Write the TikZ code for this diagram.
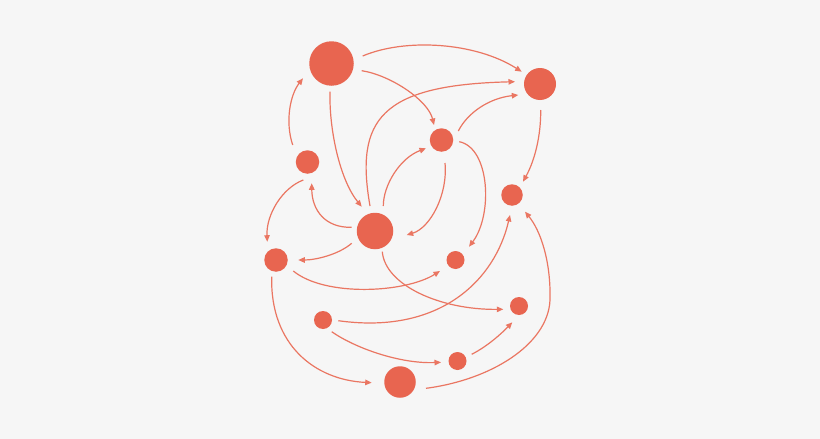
\documentclass[tikz,border=0pt]{standalone}
\usetikzlibrary{arrows.meta,calc}
\definecolor{bg}{RGB}{246,246,246}
\definecolor{dotc}{RGB}{232,101,80}
\definecolor{linec}{RGB}{234,118,98}
\tikzset{
  dot/.style={circle,fill=dotc,draw=none,inner sep=0pt},
  edge/.style={draw=linec,line width=1.2pt,-{Triangle[length=6.5pt,width=5.5pt]}}
}
\begin{document}
\begin{tikzpicture}[x=1pt,y=-1pt]
\fill[bg] (0,0) rectangle (820,439);
\useasboundingbox (0,0) rectangle (820,439);
\node[dot,minimum size=44.5pt] (A) at (331.5,63.5) {};
\node[dot,minimum size=32pt] (B) at (540,84) {};
\node[dot,minimum size=23.5pt] (C) at (441.5,140) {};
\node[dot,minimum size=23.5pt] (D) at (307.5,162) {};
\node[dot,minimum size=21.5pt] (E) at (512,195) {};
\node[dot,minimum size=36.5pt] (F) at (375,231) {};
\node[dot,minimum size=23.5pt] (G) at (276,260) {};
\node[dot,minimum size=18pt] (H) at (455.5,260) {};
\node[dot,minimum size=18pt] (I) at (519,306) {};
\node[dot,minimum size=18pt] (J) at (323,320) {};
\node[dot,minimum size=18pt] (K) at (457.5,361) {};
\node[dot,minimum size=31.5pt] (L) at (400,382) {};
% edges
\draw[edge] ($(A)+(31.2,-7.5)$) .. controls +(42.3,-18) and +(-46.7,-29.7) .. ($(B)+(-18.3,-12.3)$);
\draw[edge] ($(A)+(30.2,7.2)$) .. controls +(28.3,4.3) and +(-6,-25) .. ($(C)+(-7.5,-15)$);
\draw[edge] ($(A)+(-1.5,28.2)$) .. controls +(-1,38.3) and +(-21.7,-26.7) .. ($(F)+(-13.3,-24.3)$);
\draw[edge] ($(D)+(-14.8,-17)$) .. controls +(-7.7,-23) and +(-13,16.7) .. ($(A)+(-28.5,14.8)$);
\draw[edge] ($(F)+(-5,-25)$) .. controls +(-15,-86) and +(-135,3.3) .. ($(B)+(-25,-2.3)$);
\draw[edge] ($(C)+(16.8,-9)$) .. controls +(9.7,-19) and +(-28.3,3) .. ($(B)+(-21.7,11)$);
\draw[edge] ($(B)+(0.7,26)$) .. controls +(0.3,25) and +(12,-21.7) .. ($(E)+(11,-13.3)$);
\draw[edge] ($(F)+(8.3,-25)$) .. controls +(0,-21) and +(-26,9.7) .. ($(C)+(-15.5,8.3)$);
\draw[edge] ($(C)+(3.5,23)$) .. controls +(3,32) and +(23.3,-7) .. ($(F)+(31.7,4)$);
\draw[edge] ($(C)+(17.8,1.7)$) .. controls +(30.7,6.3) and +(24,-31.7) .. ($(H)+(13.5,-13.3)$);
\draw[edge] ($(F)+(-23.3,-3.7)$) .. controls +(-26.7,0.7) and +(0.3,26.7) .. ($(D)+(4.2,21.3)$);
\draw[edge] ($(D)+(-4.2,18)$) .. controls +(-21.3,8) and +(-1.3,-26.7) .. ($(G)+(-8.7,-18.3)$);
\draw[edge] ($(F)+(-23.3,12.3)$) .. controls +(-13.7,11.7) and +(16.7,0) .. ($(G)+(22.3,0)$);
\draw[edge] ($(G)+(17.3,11)$) .. controls +(31.7,26) and +(-35,22) .. ($(H)+(-15.5,11)$);
\draw[edge] ($(F)+(7.3,20.7)$) .. controls +(2.7,33.3) and +(-63.3,0.7) .. ($(I)+(-15.7,3.3)$);
\draw[edge] ($(J)+(15.3,0.7)$) .. controls +(101.7,14.3) and +(-15,65) .. ($(E)+(-2,20)$);
\draw[edge] ($(J)+(8.7,11.7)$) .. controls +(23.3,16.3) and +(-41,1.7) .. ($(K)+(-16.5,1.3)$);
\draw[edge] ($(K)+(14.2,-6.7)$) .. controls +(16.3,-8.3) and +(-10.3,10.7) .. ($(I)+(-6.7,16.3)$);
\draw[edge] ($(G)+(-4.3,16.7)$) .. controls +(-1.7,68.3) and +(-56.7,-2.7) .. ($(L)+(-28.3,0.7)$);
\draw[edge] ($(L)+(26,6.3)$) .. controls +(64,-8.3) and +(-2,45) .. ($(E)+(38,105)$)
  .. controls +(1,-40) and +(15,18.3) .. ($(E)+(13,16.7)$);
\end{tikzpicture}
\end{document}
